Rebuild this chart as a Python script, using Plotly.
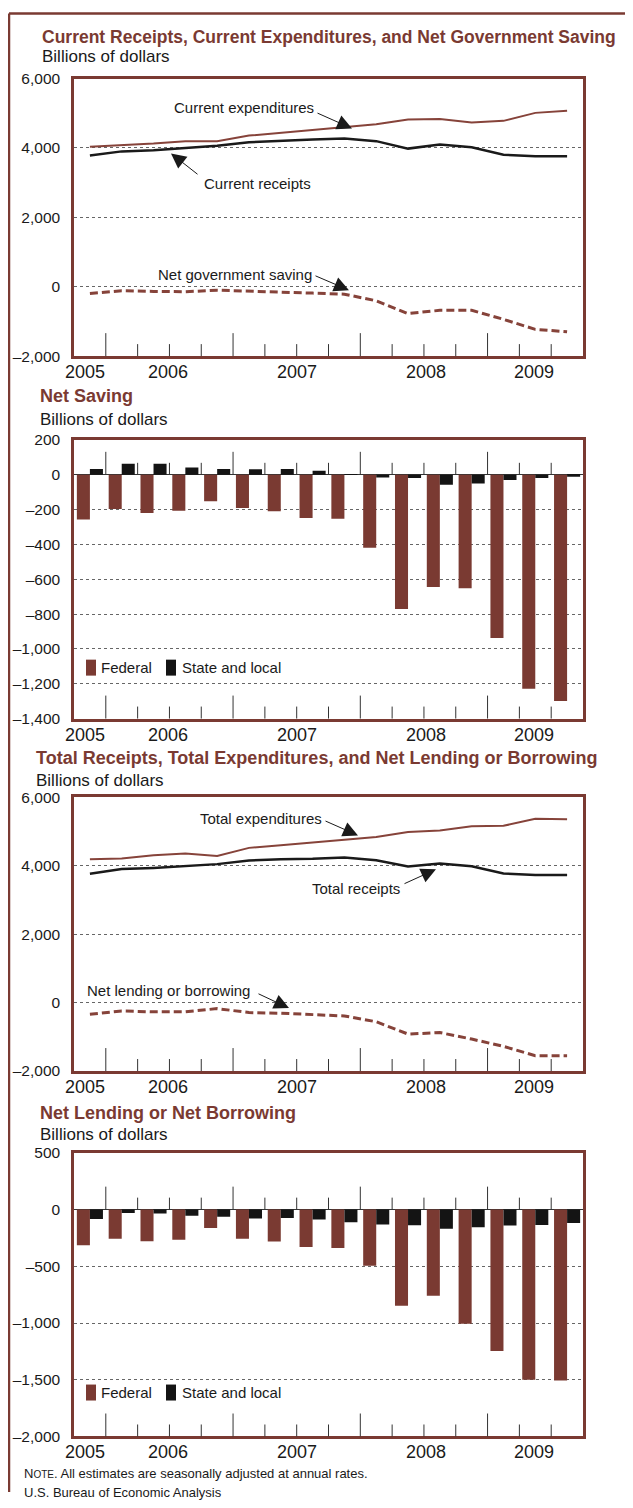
import plotly.graph_objects as go

# ---------------- data ----------------
quarters = ["2005 Q2", "2005 Q3", "2005 Q4", "2006 Q1", "2006 Q2", "2006 Q3", "2006 Q4", "2007 Q1",
            "2007 Q2", "2007 Q3", "2007 Q4", "2008 Q1", "2008 Q2", "2008 Q3", "2008 Q4", "2009 Q1"]

current_receipts = [3780, 3900, 3935, 4000, 4065, 4165, 4210, 4240, 4270, 4195, 3980, 4095, 4020, 3805, 3760, 3760]
current_expenditures = [4030, 4070, 4125, 4195, 4195, 4355, 4435, 4500, 4580, 4680, 4820, 4830, 4730, 4780, 5010, 5070]
net_gov_saving = [-195, -115, -135, -145, -100, -135, -155, -185, -215, -405, -775, -680, -680, -940, -1230, -1300]

ns_federal = [-257, -197, -219, -206, -152, -190, -210, -248, -253, -419, -771, -644, -651, -937, -1229, -1299]
ns_state = [34, 63, 63, 42, 34, 32, 34, 23, 4, -15, -19, -57, -50, -30, -19, -11]

total_receipts = [3770, 3905, 3940, 4000, 4050, 4155, 4195, 4205, 4240, 4165, 3980, 4070, 3990, 3775, 3730, 3730]
total_expenditures = [4195, 4215, 4310, 4360, 4290, 4525, 4600, 4680, 4745, 4845, 4990, 5035, 5155, 5170, 5375, 5365]
net_lending = [-340, -245, -270, -270, -175, -290, -310, -350, -390, -560, -920, -875, -1065, -1280, -1550, -1550]

nl_federal = [-315, -256, -279, -265, -162, -256, -282, -329, -338, -494, -847, -759, -1006, -1247, -1500, -1506]
nl_state = [-82, -29, -35, -53, -62, -79, -74, -88, -112, -132, -138, -168, -156, -141, -135, -118]

year_labels = ["2005", "2006", "2007", "2008", "2009"]

# ---------------- styling / layout helpers ----------------
OFF = 8  # default body margin of the html page
W, H = 625, 1492
FONT = "Liberation Sans, Arial, sans-serif"
BROWN = "#7a3a32"
LBROWN = "#86433a"
DARK = "#1a1a1a"


def px(x):
    return (x - OFF) / W


def py(y):
    y = 754 + (y - 754) * 1.01
    return 1 - (y - OFF) / H


xs = list(range(len(quarters)))
year_pos = [-0.15, 2.45, 6.5, 10.55, 13.95]

# panel frames in page pixels: (top, bottom)
panels = [(77, 355), (439, 718), (797, 1071), (1153, 1437)]
ranges = [(-2000, 6000), (-1400, 200), (-2000, 6000), (-2000, 500)]
tickvals_list = [
    [-2000, 0, 2000, 4000, 6000],
    [-1400, -1200, -1000, -800, -600, -400, -200, 0, 200],
    [-2000, 0, 2000, 4000, 6000],
    [-2000, -1500, -1000, -500, 0, 500],
]


def fmt(v):
    s = f"{abs(v):,}"
    return ("\u2013" + s) if v < 0 else s


fig = go.Figure()

# Chart 1 lines
fig.add_trace(go.Scatter(x=xs, y=current_expenditures, mode="lines", line=dict(color=LBROWN, width=2),
                         name="Current expenditures", xaxis="x", yaxis="y"))
fig.add_trace(go.Scatter(x=xs, y=current_receipts, mode="lines", line=dict(color=DARK, width=2.5),
                         name="Current receipts", xaxis="x", yaxis="y"))
fig.add_trace(go.Scatter(x=xs, y=net_gov_saving, mode="lines", line=dict(color=LBROWN, width=3, dash="8px,4px"),
                         name="Net government saving", xaxis="x", yaxis="y"))

# Chart 2 bars
BW = 0.41
fig.add_trace(go.Bar(x=xs, y=ns_federal, width=BW, offset=-BW, marker=dict(color=BROWN, line=dict(width=0)),
                     name="Federal", xaxis="x2", yaxis="y2"))
fig.add_trace(go.Bar(x=xs, y=ns_state, width=BW, offset=0, marker=dict(color="#141414", line=dict(width=0)),
                     name="State and local", xaxis="x2", yaxis="y2"))

# Chart 3 lines
fig.add_trace(go.Scatter(x=xs, y=total_expenditures, mode="lines", line=dict(color=LBROWN, width=2),
                         name="Total expenditures", xaxis="x3", yaxis="y3"))
fig.add_trace(go.Scatter(x=xs, y=total_receipts, mode="lines", line=dict(color=DARK, width=2.5),
                         name="Total receipts", xaxis="x3", yaxis="y3"))
fig.add_trace(go.Scatter(x=xs, y=net_lending, mode="lines", line=dict(color=LBROWN, width=3, dash="8px,4px"),
                         name="Net lending or borrowing", xaxis="x3", yaxis="y3"))

# Chart 4 bars
fig.add_trace(go.Bar(x=xs, y=nl_federal, width=BW, offset=-BW, marker=dict(color=BROWN, line=dict(width=0)),
                     name="Federal", xaxis="x4", yaxis="y4"))
fig.add_trace(go.Bar(x=xs, y=nl_state, width=BW, offset=0, marker=dict(color="#141414", line=dict(width=0)),
                     name="State and local", xaxis="x4", yaxis="y4"))

layout = dict(
    width=W, height=H, margin=dict(l=0, r=0, t=0, b=0),
    paper_bgcolor="white", plot_bgcolor="white",
    showlegend=False, barmode="overlay",
    font=dict(family=FONT, color=DARK, size=15),
)

shapes = []
annotations = []

for k, ((top, bot), rng, tv) in enumerate(zip(panels, ranges, tickvals_list), start=1):
    sx = "" if k == 1 else str(k)
    is_bar = k in (2, 4)
    layout["xaxis" + sx] = dict(
        domain=[px(74), px(583)], range=[-0.5, 15.5], anchor="y" + sx,
        showgrid=False, zeroline=False, showticklabels=False, ticks="",
        showline=True, mirror=True, linecolor=BROWN, linewidth=2.5, fixedrange=True,
    )
    layout["yaxis" + sx] = dict(
        domain=[py(bot), py(top)], range=list(rng), anchor="x" + sx,
        tickvals=tv, ticktext=[fmt(v) for v in tv], ticks="", ticklabelstandoff=8,
        tickfont=dict(size=15.5, color=DARK, family=FONT),
        showgrid=True, gridcolor="#666666", griddash="dot", gridwidth=1,
        zeroline=is_bar, zerolinecolor="#333333", zerolinewidth=1,
        showline=True, mirror=True, linecolor=BROWN, linewidth=2.5, fixedrange=True,
    )
    # quarter tick marks
    height = bot - top
    zero_px = top + (rng[1] - 0) / (rng[1] - rng[0]) * height
    for i in range(15):
        tall = i % 4 == 0
        L = 23 if tall else 12
        shapes.append(dict(type="line", xref="x" + sx, yref="paper", x0=i + 0.5, x1=i + 0.5,
                           y0=py(bot), y1=py(bot - L), line=dict(color="#333333", width=1)))
        if is_bar:
            shapes.append(dict(type="line", xref="x" + sx, yref="paper", x0=i + 0.5, x1=i + 0.5,
                               y0=py(zero_px), y1=py(zero_px - L), line=dict(color="#333333", width=1)))
    # year labels
    for lab, xp in zip(year_labels, year_pos):
        annotations.append(dict(text=lab, xref="x" + sx, yref="paper", x=xp, y=py(bot + 16),
                                showarrow=False, xanchor="center", yanchor="middle",
                                font=dict(size=18, color=DARK, family=FONT)))

# titles and subtitles (text, left x, title y, subtitle y, title font size)
titles = [
    ("Current Receipts, Current Expenditures, and Net Government Saving", 40, 35, 55, 17.5),
    ("Net Saving", 38, 395, 418, 18),
    ("Total Receipts, Total Expenditures, and Net Lending or Borrowing", 34, 758, 780, 18),
    ("Net Lending or Net Borrowing", 38, 1113, 1135, 18),
]
for t, x0, ty, sy, fs in titles:
    annotations.append(dict(text="<b>" + t + "</b>", xref="paper", yref="paper", x=px(x0), y=py(ty),
                            xanchor="left", yanchor="middle", showarrow=False,
                            font=dict(size=fs, color=BROWN, family=FONT)))
    annotations.append(dict(text="Billions of dollars", xref="paper", yref="paper", x=px(x0), y=py(sy),
                            xanchor="left", yanchor="middle", showarrow=False,
                            font=dict(size=17, color=DARK, family=FONT)))

# line labels with arrows (text, text-left-x, text-y, arrow tail (x,y), arrow tip (x,y))
line_labels = [
    ("Current expenditures", 172, 106, (316, 111), (352, 127)),
    ("Current receipts", 202, 182, (199, 174), (171, 152)),
    ("Net government saving", 156, 273, (314, 274), (349, 289)),
    ("Total expenditures", 198, 818, (324, 820), (358, 835)),
    ("Total receipts", 310, 888, (403, 884), (436, 869)),
    ("Net lending or borrowing", 85, 990, (257, 993), (289, 1008)),
]
for t, tx, ty, tail, tip in line_labels:
    annotations.append(dict(text=t, xref="paper", yref="paper", x=px(tx), y=py(ty),
                            xanchor="left", yanchor="middle", showarrow=False,
                            font=dict(size=15, color=DARK, family=FONT)))
    annotations.append(dict(text="", xref="paper", yref="paper", x=px(tip[0]), y=py(tip[1]),
                            ax=tail[0] - tip[0], ay=tail[1] - tip[1], axref="pixel", ayref="pixel",
                            showarrow=True, arrowhead=2, arrowsize=3, arrowwidth=1, arrowcolor=DARK,
                            standoff=0, startstandoff=0))

# legends for bar charts
for ly in (667, 1393):
    shapes.append(dict(type="rect", xref="paper", yref="paper", x0=px(86), x1=px(96),
                       y0=py(ly + 8), y1=py(ly - 8), fillcolor=BROWN, line=dict(width=0)))
    annotations.append(dict(text="Federal", xref="paper", yref="paper", x=px(99), y=py(ly),
                            xanchor="left", yanchor="middle", showarrow=False,
                            font=dict(size=15, color=DARK, family=FONT)))
    shapes.append(dict(type="rect", xref="paper", yref="paper", x0=px(166), x1=px(176),
                       y0=py(ly + 8), y1=py(ly - 8), fillcolor="#141414", line=dict(width=0)))
    annotations.append(dict(text="State and local", xref="paper", yref="paper", x=px(180), y=py(ly),
                            xanchor="left", yanchor="middle", showarrow=False,
                            font=dict(size=15, color=DARK, family=FONT)))

# notes
annotations.append(dict(text="N<span style='font-size:10px'>OTE</span>. All estimates are seasonally adjusted at annual rates.",
                        xref="paper", yref="paper", x=px(22), y=py(1474), xanchor="left", yanchor="middle",
                        showarrow=False, font=dict(size=13, color=DARK, family=FONT)))
annotations.append(dict(text="U.S. Bureau of Economic Analysis", xref="paper", yref="paper", x=px(22), y=py(1493),
                        xanchor="left", yanchor="middle", showarrow=False,
                        font=dict(size=13, color=DARK, family=FONT)))

# outer border (left and top edges)
shapes.append(dict(type="line", xref="paper", yref="paper", x0=px(9), x1=px(9), y0=py(12), y1=0,
                   line=dict(color=BROWN, width=2.5)))
shapes.append(dict(type="line", xref="paper", yref="paper", x0=px(9), x1=1, y0=py(12), y1=py(12),
                   line=dict(color=BROWN, width=2.5)))

layout["shapes"] = shapes
layout["annotations"] = annotations
fig.update_layout(**layout)

fig.write_html("out.html")
